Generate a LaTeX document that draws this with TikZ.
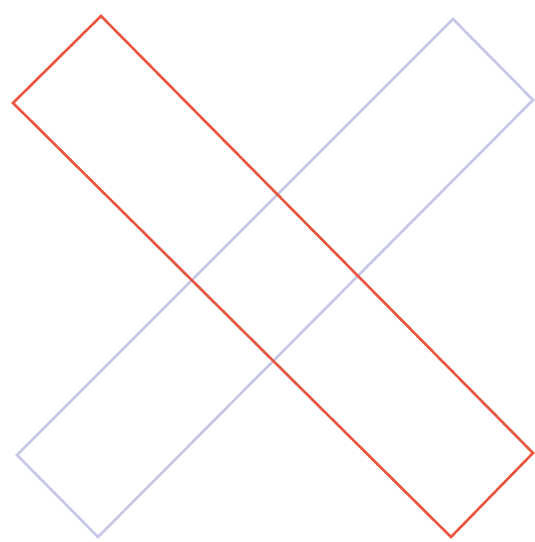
\documentclass[tikz,border=0pt]{standalone}
\definecolor{redline}{HTML}{E8563F}
\definecolor{lavline}{HTML}{C6C6E6}
\begin{document}
\begin{tikzpicture}[x=1pt,y=-1pt,
  bar/.style={line width=2.6pt,line join=miter}]
\useasboundingbox (0,0) rectangle (535,542);
\coordinate (l1) at (453,19);
\coordinate (l2) at (533,100);
\coordinate (l3) at (98,537);
\coordinate (l4) at (17,455);
\draw[bar,lavline] (l1) -- (l2) -- (l3) -- (l4) -- cycle;
\coordinate (r1) at (101,16);
\coordinate (r2) at (533,453);
\coordinate (r3) at (451,537);
\coordinate (r4) at (13,103);
\draw[bar,redline] (r1) -- (r2) -- (r3) -- (r4) -- cycle;
\end{tikzpicture}
\end{document}
